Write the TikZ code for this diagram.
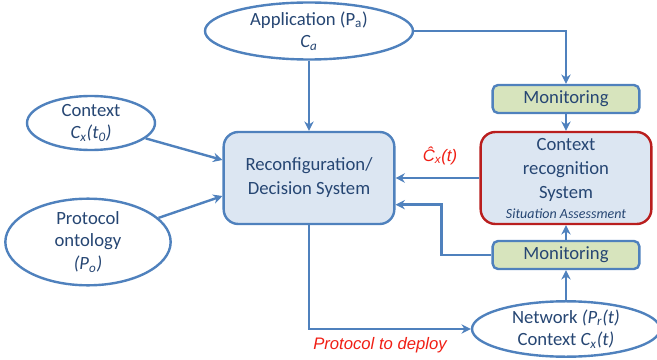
\documentclass[tikz,border=0pt]{standalone}
\usepackage{fontspec}
\setmainfont{Carlito}
\newfontfamily\labelfont{Liberation Sans}
\usetikzlibrary{arrows.meta,shapes.geometric}
\definecolor{steel}{RGB}{79,129,189}
\definecolor{paleblue}{RGB}{220,230,242}
\definecolor{palegreen}{RGB}{215,228,189}
\definecolor{darkred}{RGB}{185,30,30}
\definecolor{alert}{RGB}{240,30,20}
\definecolor{ink}{RGB}{38,70,115}
\tikzset{
  >={Stealth[length=7pt,width=7pt]},
  oval/.style={ellipse,draw=steel,line width=1.8pt,fill=white,inner sep=0pt,
    align=center,text=ink,font=\fontsize{14}{17}\selectfont},
  block/.style={draw=#1,fill=paleblue,line width=1.8pt,rounded corners=11pt,
    minimum width=128pt,minimum height=69pt,inner sep=0pt,align=center,
    text=ink,font=\fontsize{14}{18}\selectfont},
  block/.default=steel,
  monbox/.style={draw=steel,fill=palegreen,line width=1.8pt,rounded corners=4pt,
    minimum width=110pt,minimum height=21pt,inner sep=0pt,text=ink,
    font=\fontsize{14}{17}\selectfont},
  flow/.style={->,line width=1.8pt,draw=steel},
  redtag/.style={text=alert,font=\labelfont\itshape\fontsize{12.5}{15}\selectfont},
}
\begin{document}
\begin{tikzpicture}[x=0.75pt,y=-0.75pt]
  \useasboundingbox (0,0) rectangle (657,360);
  % inputs
  \node[oval,minimum width=156pt,minimum height=42.75pt] (app) at (309,31)
    {Application (P\textsubscript{a})\\\textit{C\textsubscript{a}}};
  \node[oval,minimum width=96pt,minimum height=40.5pt] (ctx) at (91,123)
    {Context\\\textit{C\textsubscript{x}(t\textsubscript{0})}};
  \node[oval,minimum width=124pt,minimum height=56pt] (proto) at (88,242)
    {Protocol\\ontology\\\textit{(P\textsubscript{o})}};
  % main blocks
  \node[block] (reconf) at (309,178) {Reconfiguration/\\Decision System};
  \node[block=darkred] (recog) at (566,178)
    {Context\\recognition\\System\\[-3pt]{\fontsize{10.5}{12}\selectfont\itshape Situation Assessment}};
  \node[monbox] (montop) at (566,99) {Monitoring};
  \node[monbox] (monbot) at (566,255) {Monitoring};
  \node[oval,minimum width=141pt,minimum height=41pt] (net) at (566,329)
    {Network \textit{(P\textsubscript{r}(t)}\\Context \textit{C\textsubscript{x}(t)}};
  % connectors
  \draw[flow] (app.south) -- (reconf.north);
  \draw[flow] (app.east) -| (montop.north);
  \draw[flow] (montop) -- (recog);
  \draw[flow] (ctx) -- ([yshift=13.5pt]reconf.west);
  \draw[flow] (proto) -- ([yshift=-13.5pt]reconf.west);
  \draw[flow] (recog.west) -- (reconf.east);
  \draw[flow] (monbot.west) -- ++(-50,0) |- ([yshift=-20pt]reconf.east);
  \draw[flow] (monbot) -- (recog);
  \draw[flow] (net) -- (monbot);
  \draw[flow] (reconf.south) |- (net.west);
  % labels
  \node[redtag] (chat) at (440,156) {\^{C}\textsubscript{x}(t)};
  \node[redtag] (deploy) at (380,345) {Protocol to deploy};
\end{tikzpicture}
\end{document}
